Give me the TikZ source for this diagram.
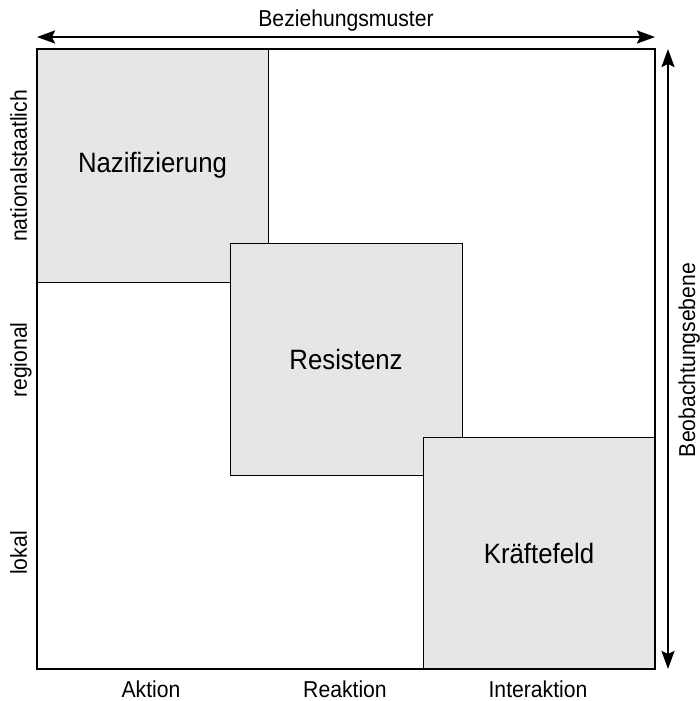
\documentclass[tikz,border=0pt]{standalone}
\usepackage{fontspec}
\setmainfont{Liberation Sans}[FakeStretch=0.92]
\usetikzlibrary{arrows.meta}
\definecolor{boxgray}{HTML}{E6E6E6}
\tikzset{
  field/.style={rectangle, draw=black, line width=1pt, fill=boxgray, inner sep=0pt, outer sep=0pt, font=\fontsize{28}{32}\selectfont},
  frame/.style={rectangle, draw=black, line width=2pt, inner sep=0pt, outer sep=0pt},
  axislabel/.style={font=\fontsize{23}{26}\selectfont, inner sep=0pt, anchor=base},
  axisarrow/.style={line width=2pt, {Stealth[length=18pt,width=13pt,inset=3pt]}-{Stealth[length=18pt,width=13pt,inset=3pt]}}
}
\begin{document}
\begin{tikzpicture}[x=1pt,y=-1pt]
\useasboundingbox (0,0) rectangle (699,701);
\node[field, minimum width=231pt, minimum height=233pt] (naz) at (152.5,165.5) {Nazifizierung};
\node[field, minimum width=232pt, minimum height=231.5pt] (res) at (346,359.25) {Resistenz};
\node[field, minimum width=232pt, minimum height=232pt] (kra) at (539,553) {Kräftefeld};
\node[frame, minimum width=618pt, minimum height=620pt] (outer) at (346,359) {};
\coordinate (tl) at (37,37);
\coordinate (tr) at (655,37);
\coordinate (rt) at (668,49);
\coordinate (rb) at (668,669);
\draw[axisarrow] (tl) -- (tr);
\draw[axisarrow] (rb) -- (rt);
\node[axislabel] (bez) at (346,27) {Beziehungsmuster};
\node[axislabel, rotate=90] (beo) at (695,360) {Beobachtungsebene};
\node[axislabel] (akt) at (151,697) {Aktion};
\node[axislabel] (rea) at (345,697) {Reaktion};
\node[axislabel] (int) at (538,697) {Interaktion};
\node[axislabel, rotate=90] (nat) at (27,166) {nationalstaatlich};
\node[axislabel, rotate=90] (reg) at (27,360) {regional};
\node[axislabel, rotate=90] (lok) at (27,553) {lokal};
\end{tikzpicture}
\end{document}
